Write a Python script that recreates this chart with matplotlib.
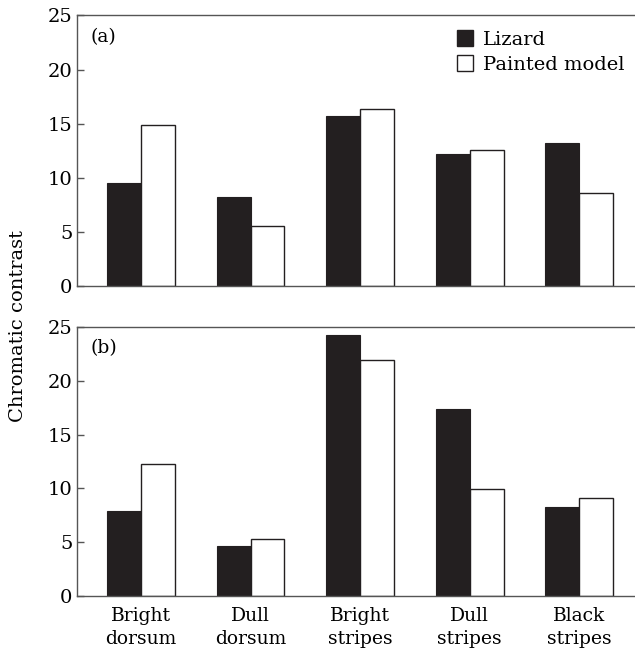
import numpy as np
import matplotlib
matplotlib.use("Agg")
import matplotlib.pyplot as plt
from matplotlib.patches import Patch

plt.rcParams['font.family'] = ['DejaVu Serif']

categories = ['Bright\ndorsum', 'Dull\ndorsum', 'Bright\nstripes', 'Dull\nstripes', 'Black\nstripes']
lizard_a = [9.55, 8.26, 15.7, 12.17, 13.25]
model_a = [14.9, 5.57, 16.33, 12.54, 8.57]
lizard_b = [7.9, 4.69, 24.2, 17.36, 8.25]
model_b = [12.26, 5.28, 21.93, 9.97, 9.14]

dark = '#231f20'
edge = '#555555'
x = np.arange(len(categories))
w = 0.31

fig = plt.figure(figsize=(6.35, 6.51), dpi=100)
ax_a = fig.add_axes([0.1208, 0.5607, 0.8792, 0.4155])
ax_b = fig.add_axes([0.1208, 0.0840, 0.8792, 0.4142])

for ax, liz, mod, tag in [(ax_a, lizard_a, model_a, '(a)'), (ax_b, lizard_b, model_b, '(b)')]:
    ax.bar(x - w / 2, liz, w, color=dark, edgecolor=dark, linewidth=0.8)
    ax.bar(x + w / 2, mod, w, color='white', edgecolor=dark, linewidth=1.0)
    ax.set_xlim(-0.587, 4.51)
    ax.set_ylim(0, 25)
    ax.set_yticks([0, 5, 10, 15, 20, 25])
    ax.tick_params(axis='y', direction='in', length=5, width=1, color=edge,
                   labelsize=14, pad=3)
    ax.tick_params(axis='x', length=0, labelsize=13.5, pad=8)
    ax.spines['right'].set_visible(False)
    for s in ['left', 'top', 'bottom']:
        ax.spines[s].set_color(edge)
        ax.spines[s].set_linewidth(1.0)
    ax.text(0.025, 0.955, tag, transform=ax.transAxes, fontsize=13.5,
            va='top', ha='left')

ax_a.set_xticks([])
ax_b.set_xticks(x)
ax_b.set_xticklabels(categories, linespacing=1.3)

handles = [Patch(facecolor=dark, edgecolor=dark, label='Lizard'),
           Patch(facecolor='white', edgecolor=dark, label='Painted model')]
ax_a.legend(handles=handles, loc='upper right', frameon=False, fontsize=14,
            handlelength=0.85, handleheight=0.85, handletextpad=0.5,
            labelspacing=0.35, borderaxespad=0.0, bbox_to_anchor=(0.995, 0.975))

fig.text(0.028, 0.5, 'Chromatic contrast', rotation=90, va='center', ha='center',
         fontsize=14)

fig.savefig('out.png', dpi=100)
